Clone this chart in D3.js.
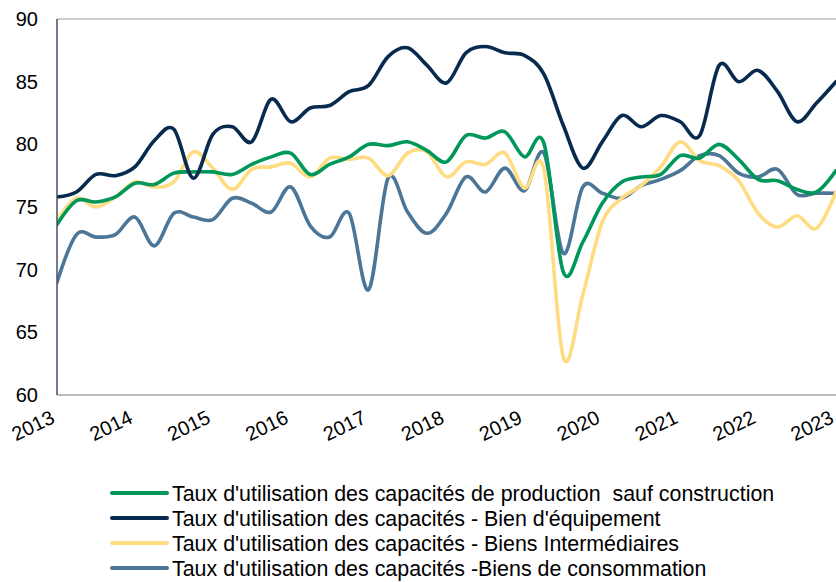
<!DOCTYPE html>
<html>
<head>
<meta charset="utf-8">
<script src="https://cdn.jsdelivr.net/npm/d3@7"></script>
<style>
  body { margin: 0; background: #fff; }
  svg { display: block; font-family: "Liberation Sans", Arial, sans-serif; }
  .tick-label { font-size: 20px; fill: #000; }
  .legend-text { font-size: 21.4px; fill: #000; }
</style>
</head>
<body>
<div id="chart"></div>
<script>
// Quarterly observations, 2013 T1 -> 2023 T1
const quarters = [];
for (let y = 2013; y <= 2023; y++) {
  for (let q = 1; q <= 4; q++) {
    if (y === 2023 && q > 1) break;
    quarters.push(y + "T" + q);
  }
}

const yTicks = [60, 65, 70, 75, 80, 85, 90];
const yearLabels = ["2013", "2014", "2015", "2016", "2017", "2018", "2019", "2020", "2021", "2022", "2023"];

const seriesNames = [
  "Taux d'utilisation des capacités de production  sauf construction",
  "Taux d'utilisation des capacités - Bien d'équipement",
  "Taux d'utilisation des capacités - Biens Intermédiaires",
  "Taux d'utilisation des capacités -Biens de consommation"
];
const seriesColors = ["#00975A", "#072A4F", "#FFDC82", "#4B7698"];

const productionTotal = [
  73.6, 75.5, 75.4, 75.8, 76.9, 76.8, 77.7, 77.8,
  77.8, 77.6, 78.4, 79.0, 79.3, 77.6, 78.4, 79.0,
  80.0, 79.9, 80.2, 79.5, 78.6, 80.7, 80.5, 81.0,
  79.0, 80.1, 69.8, 72.2, 75.3, 77.0, 77.4, 77.6,
  79.1, 78.9, 80.0, 78.8, 77.2, 77.1, 76.4, 76.2,
  77.9
];
const equipement = [
  75.8, 76.2, 77.6, 77.5, 78.2, 80.3, 81.2, 77.3,
  80.8, 81.4, 80.2, 83.6, 81.8, 82.9, 83.1, 84.2,
  84.7, 87.0, 87.7, 86.3, 84.9, 87.3, 87.8, 87.3,
  87.1, 85.6, 81.5, 78.1, 80.2, 82.3, 81.4, 82.3,
  81.8, 80.7, 86.3, 85.0, 85.9, 84.2, 81.8, 83.3,
  85.0
];
const intermediaires = [
  73.9, 75.7, 75.0, 75.8, 77.0, 76.6, 77.0, 79.4,
  78.1, 76.4, 78.0, 78.2, 78.5, 77.4, 78.9, 78.8,
  78.9, 77.5, 79.3, 79.4, 77.4, 78.6, 78.4, 79.3,
  76.5, 78.0, 63.0, 68.0, 73.8, 75.7, 76.7, 78.2,
  80.2, 78.7, 78.3, 77.1, 74.5, 73.4, 74.3, 73.3,
  76.2
];
const consommation = [
  69.0, 72.8, 72.6, 72.8, 74.2, 71.9, 74.5, 74.2,
  74.0, 75.7, 75.3, 74.6, 76.6, 73.5, 72.6, 74.5,
  68.4, 77.3, 74.6, 72.9, 74.5, 77.4, 76.2, 78.1,
  76.3, 79.3, 71.3, 76.6, 76.1, 75.7, 76.7, 77.2,
  77.9, 79.1, 79.1, 77.7, 77.4, 78.0, 76.0, 76.1,
  76.1
];

const seriesValues = [productionTotal, equipement, intermediaires, consommation];

const width = 836, height = 582;
const margin = { top: 19, right: 0, bottom: 187, left: 57 };

const svg = d3.select("#chart").append("svg")
  .attr("width", width)
  .attr("height", height);

const x = d3.scalePoint()
  .domain(quarters)
  .range([margin.left, width - margin.right]);

const y = d3.scaleLinear()
  .domain([60, 90])
  .range([height - margin.bottom, margin.top]);

// plot frame: top & bottom grey, left axis darker
svg.append("line")
  .attr("x1", margin.left).attr("x2", width)
  .attr("y1", y(90)).attr("y2", y(90))
  .attr("stroke", "#BDBDBD").attr("stroke-width", 1.5);
svg.append("line")
  .attr("x1", margin.left).attr("x2", width)
  .attr("y1", y(60)).attr("y2", y(60))
  .attr("stroke", "#A6A6A6").attr("stroke-width", 1.5);

// y tick labels
svg.append("g")
  .selectAll("text")
  .data(yTicks)
  .join("text")
  .attr("class", "tick-label")
  .attr("x", 38)
  .attr("y", d => y(d))
  .attr("dy", "0.35em")
  .attr("text-anchor", "end")
  .text(d => d);

// x tick labels (rotated), one per year at Q1
svg.append("g")
  .selectAll("text")
  .data(yearLabels)
  .join("text")
  .attr("class", "tick-label")
  .attr("text-anchor", "end")
  .attr("transform", d => `translate(${x(d + "T1") - 1},${y(60) + 27}) rotate(-26)`)
  .text(d => d);

// lines
const line = d3.line()
  .x((d, i) => x(quarters[i]))
  .y(d => y(d))
  .curve(d3.curveCardinal.tension(0));

svg.append("clipPath").attr("id", "plot-clip")
  .append("rect")
  .attr("x", margin.left).attr("y", 0)
  .attr("width", width - margin.left).attr("height", y(60));

const order = [3, 2, 0, 1]; // drawing order, navy on top
svg.append("g")
  .attr("clip-path", "url(#plot-clip)")
  .selectAll("path")
  .data(order)
  .join("path")
  .attr("d", i => line(seriesValues[i]))
  .attr("fill", "none")
  .attr("stroke", i => seriesColors[i])
  .attr("stroke-width", 3.6)
  .attr("stroke-linejoin", "round")
  .attr("stroke-linecap", "round");

// left axis line
svg.append("line")
  .attr("x1", margin.left).attr("x2", margin.left)
  .attr("y1", y(90)).attr("y2", y(60))
  .attr("stroke", "#4B4B66").attr("stroke-width", 1.5);

// legend
const legendRows = [493, 518, 543, 568];
const legend = svg.append("g")
  .selectAll("g")
  .data(seriesNames)
  .join("g")
  .attr("transform", (d, i) => `translate(0,${legendRows[i]})`);

legend.append("line")
  .attr("x1", 112).attr("x2", 167)
  .attr("y1", 0).attr("y2", 0)
  .attr("stroke", (d, i) => seriesColors[i])
  .attr("stroke-width", 4)
  .attr("stroke-linecap", "round");

legend.append("text")
  .attr("class", "legend-text")
  .attr("x", 172)
  .attr("y", 0)
  .attr("dy", "0.35em")
  .style("white-space", "pre")
  .text(d => d);
</script>
</body>
</html>
